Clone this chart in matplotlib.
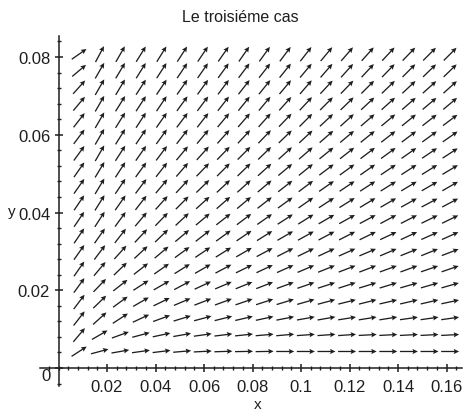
import numpy as np
import matplotlib
matplotlib.use('Agg')
import matplotlib.pyplot as plt
from matplotlib.ticker import AutoMinorLocator

plt.rcParams['font.family'] = ['Liberation Sans', 'DejaVu Sans']

# grid of the direction field
x_vals = [0.0085, 0.017, 0.0255, 0.034, 0.0425, 0.051, 0.0595, 0.068, 0.0765, 0.085,
          0.0935, 0.102, 0.1105, 0.119, 0.1275, 0.136, 0.1445, 0.153, 0.1615]
# rows from top to bottom
y_vals = [0.08075, 0.0765, 0.07225, 0.068, 0.06375, 0.0595, 0.05525, 0.051, 0.04675, 0.0425,
          0.03825, 0.034, 0.02975, 0.0255, 0.02125, 0.017, 0.01275, 0.0085, 0.00425]

# arrow directions as seen on the picture (degrees), one row per y value
arrow_deg = [
    [35, 62, 60, 58, 58, 57, 56, 55, 55, 54, 53, 52, 50, 49, 48, 47, 46, 45, 45],
    [40, 60, 59, 58, 57, 56, 55, 54, 53, 52, 51, 50, 49, 48, 47, 46, 45, 44, 44],
    [48, 60, 59, 57, 56, 55, 54, 53, 52, 51, 50, 49, 47, 46, 45, 44, 43, 42, 42],
    [50, 60, 58, 57, 56, 54, 53, 52, 51, 50, 48, 47, 45, 44, 43, 42, 41, 40, 40],
    [52, 60, 58, 57, 55, 53, 52, 50, 49, 48, 46, 45, 43, 42, 41, 40, 39, 38, 37],
    [53, 60, 58, 56, 54, 52, 50, 48, 47, 46, 44, 43, 41, 40, 39, 38, 37, 36, 35],
    [54, 60, 57, 55, 53, 50, 48, 46, 45, 44, 42, 41, 39, 38, 37, 36, 35, 34, 33],
    [55, 59, 57, 54, 52, 49, 46, 45, 44, 42, 40, 39, 37, 36, 35, 34, 33, 32, 31],
    [55, 59, 56, 53, 50, 47, 44, 43, 42, 40, 38, 37, 35, 34, 33, 32, 31, 30, 30],
    [56, 58, 55, 52, 48, 45, 42, 41, 40, 38, 36, 35, 33, 32, 31, 30, 29, 28, 28],
    [56, 57, 54, 50, 46, 43, 40, 38, 37, 35, 33, 32, 30, 29, 28, 28, 27, 26, 26],
    [56, 55, 52, 47, 44, 40, 38, 36, 34, 32, 30, 29, 28, 27, 26, 25, 25, 24, 24],
    [55, 53, 48, 43, 40, 36, 34, 32, 30, 28, 27, 26, 25, 24, 23, 23, 22, 22, 21],
    [55, 50, 44, 38, 35, 32, 30, 28, 26, 25, 24, 23, 22, 21, 21, 20, 20, 19, 19],
    [54, 46, 38, 33, 30, 28, 25, 23, 22, 21, 20, 19, 18, 18, 17, 17, 16, 16, 16],
    [53, 44, 36, 30, 26, 23, 21, 20, 19, 18, 17, 16, 15, 14, 14, 13, 13, 13, 12],
    [52, 42, 33, 25, 20, 17, 15, 14, 13, 12, 11, 10, 10, 9, 9, 9, 8, 8, 8],
    [50, 30, 20, 15, 12, 10, 8, 7, 6, 5, 5, 4, 4, 4, 3, 3, 3, 3, 3],
    [33, 15, 10, 8, 7, 5, 3, 2, 1, 1, 0, 0, 0, 0, 0, 0, 0, 0, 0],
]

xtick_vals = [0.02, 0.04, 0.06, 0.08, 0.1, 0.12, 0.14, 0.16]
xtick_text = ['0.02', '0.04', '0.06', '0.08', '0.1', '0.12', '0.14', '0.16']
ytick_vals = [0, 0.02, 0.04, 0.06, 0.08]
ytick_text = ['0', '0.02', '0.04', '0.06', '0.08']

ink = '#1e1e1e'

fig = plt.figure(figsize=(4.68, 4.14), dpi=100)
fig.patch.set_facecolor('white')
ax = fig.add_axes([40 / 468, 27 / 414, 422 / 468, 350 / 414])
ax.set_xlim(-0.00763, 0.16639)
ax.set_ylim(-0.00463, 0.08541)

X, Y = np.meshgrid(x_vals, y_vals)
th = np.radians(np.array(arrow_deg, dtype=float))
ax.quiver(X, Y, np.cos(th), np.sin(th), angles='uv', pivot='middle',
          units='dots', scale_units='dots', scale=1 / 18.0,
          width=1.3, headwidth=4.0, headlength=4.2, headaxislength=3.6,
          color=ink)

# maple-like axes through the origin
for s in ['top', 'right']:
    ax.spines[s].set_visible(False)
ax.spines['left'].set_position(('data', 0))
ax.spines['bottom'].set_position(('data', 0))
for s in ['left', 'bottom']:
    ax.spines[s].set_color(ink)
    ax.spines[s].set_linewidth(1.1)

ax.set_xticks(xtick_vals)
ax.set_xticklabels(xtick_text)
ax.set_yticks(ytick_vals)
ax.set_yticklabels(ytick_text)
ax.xaxis.set_minor_locator(AutoMinorLocator(5))
ax.yaxis.set_minor_locator(AutoMinorLocator(5))
ax.tick_params(which='major', direction='inout', length=6, width=1.1,
               color=ink, labelcolor=ink, labelsize=12)
ax.tick_params(which='minor', direction='inout', length=3, width=1, color=ink)
ax.tick_params(axis='x', which='major', pad=5)
ax.tick_params(axis='y', which='major', pad=3)
ax.get_yticklabels()[0].set_va('top')

ax.set_xlabel('x', fontsize=11, color=ink, va='center')
ax.xaxis.set_label_coords(0.5166, -0.0514)
ax.set_ylabel('y', fontsize=11, color=ink, rotation=0, va='center', ha='center')
ax.yaxis.set_label_coords(-0.068, 0.5)

fig.text(240 / 468, 1 - 18 / 414, 'Le troisiéme cas', ha='center', va='center',
         fontsize=11.5, color=ink)

fig.savefig('out.png', dpi=100)
